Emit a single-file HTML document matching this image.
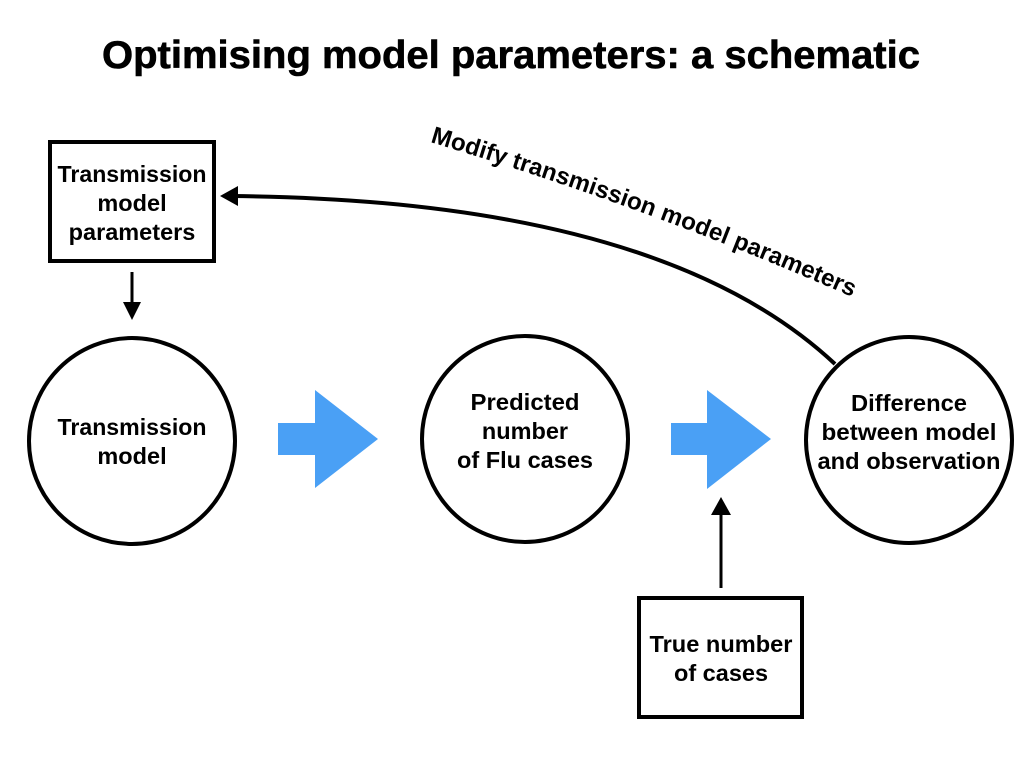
<!DOCTYPE html>
<html><head><meta charset="utf-8"><style>
html,body{margin:0;padding:0;background:#fff;}
svg{display:block;}
text{font-family:"Liberation Sans",Arial,sans-serif;font-weight:bold;fill:#000;}
</style></head><body>
<svg width="1024" height="768" viewBox="0 0 1024 768" xmlns="http://www.w3.org/2000/svg">
<text x="511" y="68" font-size="39" text-anchor="middle" textLength="818" lengthAdjust="spacingAndGlyphs" stroke="#000" stroke-width="0.6">Optimising model parameters: a schematic</text>

<rect x="50" y="142" width="164" height="119" fill="none" stroke="#000" stroke-width="4"/>
<g font-size="23.5" text-anchor="middle">
<text x="132" y="182" textLength="149" lengthAdjust="spacingAndGlyphs">Transmission</text>
<text x="132" y="211">model</text>
<text x="132" y="240">parameters</text>
</g>

<line x1="132" y1="272" x2="132" y2="304" stroke="#000" stroke-width="3"/>
<path d="M123,302 L141,302 L132,320 z" fill="#000"/>

<circle cx="132" cy="441" r="103" fill="none" stroke="#000" stroke-width="4"/>
<g font-size="23.5" text-anchor="middle">
<text x="132" y="435" textLength="149" lengthAdjust="spacingAndGlyphs">Transmission</text>
<text x="132" y="464">model</text>
</g>

<path d="M278,423 L315,423 L315,390 L378,439 L315,488 L315,455 L278,455 z" fill="#4aa0f5"/>
<path d="M671,423 L707,423 L707,390 L771,439 L707,489 L707,455 L671,455 z" fill="#4aa0f5"/>

<circle cx="525" cy="439" r="103" fill="none" stroke="#000" stroke-width="4"/>
<g font-size="23.5" text-anchor="middle">
<text x="525" y="410" textLength="109" lengthAdjust="spacingAndGlyphs">Predicted</text>
<text x="525" y="439">number</text>
<text x="525" y="468" textLength="136" lengthAdjust="spacingAndGlyphs">of Flu cases</text>
</g>

<circle cx="909" cy="440" r="103" fill="none" stroke="#000" stroke-width="4"/>
<g font-size="23.5" text-anchor="middle">
<text x="909" y="411" textLength="116" lengthAdjust="spacingAndGlyphs">Difference</text>
<text x="909" y="440" textLength="175" lengthAdjust="spacingAndGlyphs">between model</text>
<text x="909" y="469" textLength="183" lengthAdjust="spacingAndGlyphs">and observation</text>
</g>

<path d="M835,364 Q660,200 232,196" fill="none" stroke="#000" stroke-width="4"/>
<path d="M220,196 L238,186 L238,206 z" fill="#000"/>

<path id="tp" d="M430,142 Q650,208 852,297" fill="none"/>
<text font-size="24"><textPath href="#tp" textLength="450" lengthAdjust="spacingAndGlyphs">Modify transmission model parameters</textPath></text>

<rect x="639" y="598" width="163" height="119" fill="none" stroke="#000" stroke-width="4"/>
<g font-size="23.5" text-anchor="middle">
<text x="721" y="652" textLength="143" lengthAdjust="spacingAndGlyphs">True number</text>
<text x="721" y="681">of cases</text>
</g>
<line x1="721" y1="588" x2="721" y2="512" stroke="#000" stroke-width="3"/>
<path d="M711,515 L731,515 L721,497 z" fill="#000"/>
</svg>
</body></html>
